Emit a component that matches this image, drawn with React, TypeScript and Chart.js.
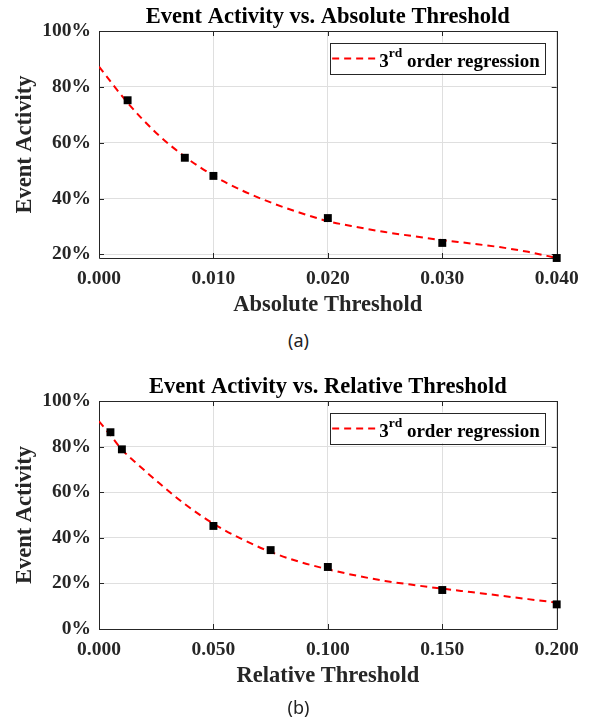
import React, { useEffect, useRef } from 'react';
import { Chart, registerables } from 'chart.js';

Chart.register(...registerables);

// ---------- data (a) ----------
const absThreshold = [0.0025, 0.0075, 0.01, 0.02, 0.03, 0.04];
const absActivity = [75.2, 54.6, 48.1, 33.0, 24.1, 18.7];
const absFitX = [0, 0.0025, 0.005, 0.0075, 0.01, 0.0125, 0.015, 0.0175, 0.02, 0.0225, 0.025, 0.0275, 0.03, 0.0325, 0.035, 0.0375, 0.04];
const absFitY = [87.2, 74.3, 63.5, 55.0, 48.2, 42.9, 38.6, 35.0, 31.9, 29.8, 28.0, 26.5, 25.1, 23.9, 22.6, 20.9, 18.7];
const absXTicks = [0, 0.01, 0.02, 0.03, 0.04];
const absYTicks = [20, 40, 60, 80, 100];

// ---------- data (b) ----------
const relThreshold = [0.005, 0.01, 0.05, 0.075, 0.1, 0.15, 0.2];
const relActivity = [86.3, 78.8, 45.2, 34.6, 27.2, 17.1, 10.8];
const relFitX = [0, 0.005, 0.01, 0.0175, 0.025, 0.0375, 0.05, 0.0625, 0.075, 0.0875, 0.1, 0.1125, 0.125, 0.1375, 0.15, 0.1625, 0.175, 0.1875, 0.2];
const relFitY = [91.1, 85.0, 78.7, 71.7, 65.1, 54.8, 46.2, 39.4, 33.8, 29.5, 26.2, 23.4, 21.1, 19.3, 17.7, 16.2, 14.7, 13.1, 11.6];
const relXTicks = [0, 0.05, 0.1, 0.15, 0.2];
const relYTicks = [0, 20, 40, 60, 80, 100];

// legend text pieces: "3" + superscript "rd" + " order regression"
const legendMain = '3';
const legendSup = 'rd';
const legendRest = ' order regression';

const SERIF = '"Liberation Serif", "Times New Roman", serif';
const AXIS_COLOR = '#262626';
const GRID_COLOR = '#dfdfdf';

const framePlugin = {
  id: 'matlabFrame',
  beforeDatasetsDraw(chart: any) {
    const { ctx, chartArea } = chart;
    const { left, right, top, bottom } = chartArea;
    const xs = chart.scales.x;
    const ys = chart.scales.y;
    ctx.save();
    ctx.strokeStyle = AXIS_COLOR;
    ctx.lineWidth = 1;
    ctx.beginPath();
    ctx.rect(Math.round(left) + 0.5, Math.round(top) + 0.5, Math.round(right - left), Math.round(bottom - top));
    const tl = 5;
    xs.ticks.forEach((t: any) => {
      const px = Math.round(xs.getPixelForValue(t.value)) + 0.5;
      ctx.moveTo(px, bottom);
      ctx.lineTo(px, bottom - tl);
      ctx.moveTo(px, top);
      ctx.lineTo(px, top + tl);
    });
    ys.ticks.forEach((t: any) => {
      const py = Math.round(ys.getPixelForValue(t.value)) + 0.5;
      ctx.moveTo(left, py);
      ctx.lineTo(left + tl, py);
      ctx.moveTo(right, py);
      ctx.lineTo(right - tl, py);
    });
    ctx.stroke();
    ctx.restore();
  },
  afterDatasetsDraw(chart: any) {
    const { ctx, chartArea } = chart;
    const fit = chart.data.datasets[1];
    const mainFont = `bold 19px ${SERIF}`;
    const supFont = `bold 13.5px ${SERIF}`;
    ctx.save();
    ctx.font = mainFont;
    const wMain = ctx.measureText(legendMain).width;
    const wRest = ctx.measureText(legendRest).width;
    ctx.font = supFont;
    const wSup = ctx.measureText(legendSup).width;
    const boxRight = chartArea.right - 11.5;
    const boxTop = chartArea.top + 11.5;
    const boxH = 30.5;
    const textRight = boxRight - 5.5;
    const textLeft = textRight - (wMain + wSup + wRest);
    const lineRight = textLeft - 4;
    const lineLeft = lineRight - 43;
    const boxLeft = lineLeft - 2;
    const baseY = boxTop + 24.5;
    const lineY = boxTop + 16;

    ctx.fillStyle = '#ffffff';
    ctx.fillRect(boxLeft, boxTop, boxRight - boxLeft, boxH);
    ctx.strokeStyle = AXIS_COLOR;
    ctx.lineWidth = 1;
    ctx.strokeRect(Math.round(boxLeft) + 0.5, Math.round(boxTop) + 0.5, Math.round(boxRight - boxLeft), Math.round(boxH));

    ctx.strokeStyle = fit.borderColor;
    ctx.lineWidth = fit.borderWidth;
    ctx.setLineDash(fit.borderDash);
    ctx.beginPath();
    ctx.moveTo(lineLeft, lineY);
    ctx.lineTo(lineRight, lineY);
    ctx.stroke();
    ctx.setLineDash([]);

    ctx.fillStyle = '#000000';
    ctx.textBaseline = 'alphabetic';
    ctx.textAlign = 'left';
    ctx.font = mainFont;
    ctx.fillText(legendMain, textLeft, baseY);
    ctx.font = supFont;
    ctx.fillText(legendSup, textLeft + wMain, baseY - 10.5);
    ctx.font = mainFont;
    ctx.fillText(legendRest, textLeft + wMain + wSup, baseY);
    ctx.restore();
  },
};

function buildConfig(
  title: string,
  xTitle: string,
  xs: number[],
  ys: number[],
  fitX: number[],
  fitY: number[],
  xTicks: number[],
  yTicks: number[],
  xMin: number,
  xMax: number,
  yMin: number,
  yMax: number,
): any {
  return {
    type: 'scatter',
    data: {
      datasets: [
        {
          label: 'Data',
          data: xs.map((x, i) => ({ x, y: ys[i] })),
          pointStyle: 'rect',
          pointRadius: 5.6,
          pointHoverRadius: 5.6,
          backgroundColor: '#000000',
          borderColor: '#000000',
          borderWidth: 0,
          showLine: false,
          clip: false,
        },
        {
          label: '3rd order regression',
          data: fitX.map((x, i) => ({ x, y: fitY[i] })),
          showLine: true,
          borderColor: '#ff0000',
          borderWidth: 2,
          borderDash: [7, 5],
          pointRadius: 0,
          pointHoverRadius: 0,
          cubicInterpolationMode: 'monotone',
          fill: false,
        },
      ],
    },
    options: {
      responsive: false,
      animation: false,
      events: [],
      layout: { padding: { top: 0, right: 32.3, bottom: 0, left: 0 } },
      plugins: {
        legend: { display: false },
        tooltip: { enabled: false },
        title: {
          display: true,
          text: title,
          fullSize: false,
          color: '#000000',
          font: { family: SERIF, size: 22.5, weight: 'bold' },
          padding: { top: 3.5, bottom: 0.5 },
        },
      },
      scales: {
        x: {
          type: 'linear',
          min: xMin,
          max: xMax,
          afterBuildTicks: (scale: any) => {
            scale.ticks = xTicks.map((v) => ({ value: v }));
          },
          afterFit: (scale: any) => {
            scale.height = 67;
          },
          grid: { color: GRID_COLOR, drawTicks: false, lineWidth: 1 },
          border: { display: false },
          ticks: {
            color: AXIS_COLOR,
            padding: 9,
            maxRotation: 0,
            font: { family: SERIF, size: 19.5, weight: 'bold' },
            callback: (v: number) => Number(v).toFixed(3),
          },
          title: {
            display: true,
            text: xTitle,
            color: AXIS_COLOR,
            font: { family: SERIF, size: 22.5, weight: 'bold' },
            padding: { top: 0, bottom: 6.5 },
          },
        },
        y: {
          type: 'linear',
          min: yMin,
          max: yMax,
          afterBuildTicks: (scale: any) => {
            scale.ticks = yTicks.map((v) => ({ value: v }));
          },
          afterFit: (scale: any) => {
            scale.width = 99;
          },
          grid: { color: GRID_COLOR, drawTicks: false, lineWidth: 1 },
          border: { display: false },
          ticks: {
            color: AXIS_COLOR,
            padding: 8,
            font: { family: SERIF, size: 19.5, weight: 'bold' },
            callback: (v: number) => `${v}%`,
          },
          title: {
            display: true,
            text: 'Event Activity',
            color: AXIS_COLOR,
            font: { family: SERIF, size: 22.5, weight: 'bold' },
            padding: { top: 11.5, bottom: 0 },
          },
        },
      },
    },
    plugins: [framePlugin],
  };
}

function ChartCanvas({ top, height, config }: { top: number; height: number; config: () => any }) {
  const ref = useRef<HTMLCanvasElement>(null);
  useEffect(() => {
    const chart = new Chart(ref.current as HTMLCanvasElement, config());
    return () => chart.destroy();
  }, []);
  return (
    <canvas
      ref={ref}
      width={589}
      height={height}
      style={{ position: 'absolute', left: 0, top, display: 'block', width: 589, height }}
    />
  );
}

const captionStyle = (top: number): React.CSSProperties => ({
  position: 'absolute',
  left: 0,
  width: 597,
  top,
  height: 24,
  lineHeight: '24px',
  textAlign: 'center',
  fontFamily: '"Noto Sans", sans-serif',
  fontSize: 18,
  color: '#222222',
});

export default function App() {
  return (
    <div style={{ position: 'absolute', left: 0, top: 0, width: 589, height: 719, background: '#ffffff', overflow: 'hidden' }}>
      <ChartCanvas
        top={0}
        height={325}
        config={() =>
          buildConfig(
            'Event Activity vs. Absolute Threshold',
            'Absolute Threshold',
            absThreshold,
            absActivity,
            absFitX,
            absFitY,
            absXTicks,
            absYTicks,
            0,
            0.04,
            18.7,
            100,
          )
        }
      />
      <div style={captionStyle(328)}>(a)</div>
      <ChartCanvas
        top={370}
        height={326}
        config={() =>
          buildConfig(
            'Event Activity vs. Relative Threshold',
            'Relative Threshold',
            relThreshold,
            relActivity,
            relFitX,
            relFitY,
            relXTicks,
            relYTicks,
            0,
            0.2,
            0,
            100,
          )
        }
      />
      <div style={captionStyle(695)}>(b)</div>
    </div>
  );
}
